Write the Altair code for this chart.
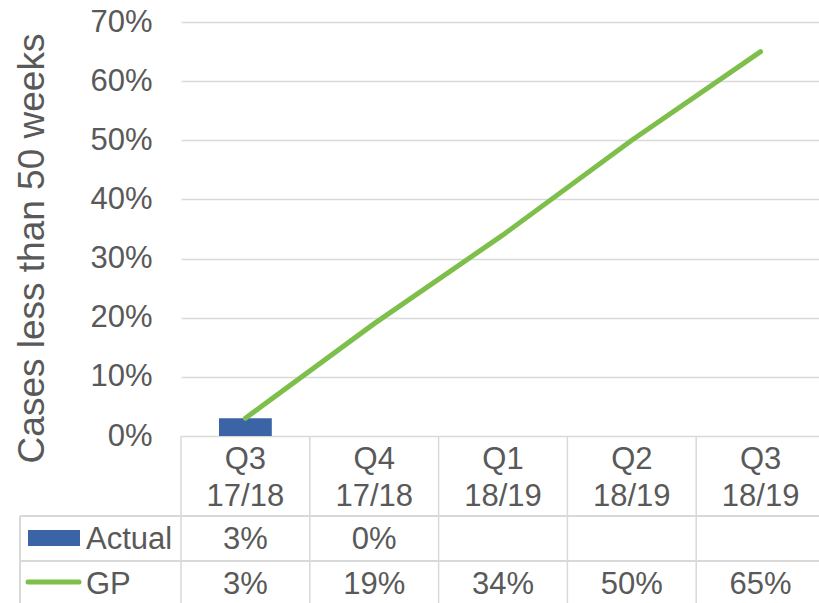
import altair as alt
import pandas as pd

quarters = ["Q3 17/18", "Q4 17/18", "Q1 18/19", "Q2 18/19", "Q3 18/19"]
actual = [0.03, 0.0, None, None, None]
gp = [0.03, 0.19, 0.34, 0.50, 0.65]
actual_labels = ["3%", "0%", "", "", ""]
gp_labels = ["3%", "19%", "34%", "50%", "65%"]

df = pd.DataFrame({
    "quarter": quarters,
    "actual": actual,
    "gp": gp,
    "actual_label": actual_labels,
    "gp_label": gp_labels,
})

FONT = "Liberation Sans"
TXT = "#595959"
GRID = "#D9D9D9"
BLUE = "#3B64A6"
GREEN = "#7DBF4A"

xscale = alt.Scale(domain=quarters, range=[0, 644], paddingInner=0, paddingOuter=0)
x_enc = alt.X(
    "quarter:N", scale=xscale, sort=quarters,
    axis=alt.Axis(
        title=None, ticks=False, domain=False, grid=False,
        labelExpr="split(datum.label, ' ')", labelFontSize=31, labelFont=FONT,
        labelColor=TXT, labelAngle=0, labelPadding=32, labelBaseline="alphabetic",
        labelLineHeight=37,
    ),
)
y_enc = alt.Y(
    "actual:Q",
    scale=alt.Scale(domain=[0, 0.7], nice=False),
    axis=alt.Axis(
        title="Cases less than 50 weeks", format=".0%", values=[0, .1, .2, .3, .4, .5, .6, .7],
        ticks=False, domain=False, grid=True, gridColor=GRID, gridWidth=1.5,
        labelFontSize=31, labelFont=FONT, labelColor=TXT, labelPadding=29,
        titleFontSize=37, titleFont=FONT, titleColor=TXT, titleFontWeight="normal",
        titleX=-138, titleY=226, titleBaseline="alphabetic", titleAlign="center", titleAngle=270,
    ),
)

def xq(**kw):
    return alt.X("quarter:N", scale=xscale, sort=quarters, **kw)

base = alt.Chart(df)

bars = base.mark_bar(color=BLUE, width={"band": 0.41}).encode(x=x_enc, y=y_enc)

line = base.mark_line(color=GREEN, strokeWidth=5, strokeCap="round").encode(
    x=xq(),
    y=alt.Y("gp:Q"),
)

# table grid lines (vertical cell borders at band edges)
vlines = base.transform_calculate(ytop="414", ybot="600").mark_rule(
    color=GRID, strokeWidth=1.5
).encode(
    x=xq(bandPosition=0),
    y=alt.Y("ytop:Q", scale=None), y2=alt.Y2("ybot:Q"),
)
left_border = base.mark_rule(color=GRID, strokeWidth=1.5).encode(
    x=alt.value(-161), y=alt.value(494), y2=alt.value(600),
)
hline1 = base.mark_rule(color=GRID, strokeWidth=1.5).encode(
    x=alt.value(-161), x2=alt.value(660), y=alt.value(494),
)
hline2 = base.mark_rule(color=GRID, strokeWidth=1.5).encode(
    x=alt.value(-161), x2=alt.value(660), y=alt.value(539),
)

actual_text = base.mark_text(fontSize=31, font=FONT, color=TXT, baseline="alphabetic").encode(
    x=xq(), y=alt.value(527), text="actual_label:N",
)
gp_text = base.mark_text(fontSize=31, font=FONT, color=TXT, baseline="alphabetic").encode(
    x=xq(), y=alt.value(572), text="gp_label:N",
)

row_labels = pd.DataFrame({"name": ["Actual", "GP"], "row": [527, 572]})
row_text = alt.Chart(row_labels).mark_text(
    fontSize=31, font=FONT, color=TXT, baseline="alphabetic", align="left"
).encode(x=alt.value(-95), y=alt.Y("row:Q", scale=None), text="name:N")

legend_rect = alt.Chart(pd.DataFrame({"name": ["Actual"]})).mark_rect(color=BLUE).encode(
    x=alt.value(-153), x2=alt.value(-101), y=alt.value(508), y2=alt.value(524),
)
legend_line = alt.Chart(pd.DataFrame({"name": ["GP"]})).mark_rule(
    color=GREEN, strokeWidth=5, strokeCap="round"
).encode(
    x=alt.value(-153), x2=alt.value(-102), y=alt.value(560),
)

chart = alt.layer(
    bars, line, vlines, left_border, hline1, hline2, actual_text, gp_text,
    row_text, legend_rect, legend_line,
).properties(
    width=638, height=414,
    autosize=alt.AutoSizeParams(type="none"),
    padding={"left": 181, "top": 22, "right": 0, "bottom": 167},
).configure(background="white").configure_view(stroke=None).configure_axisX(grid=False)

chart.save("out.html", embed_options={"renderer": "svg", "actions": False})
